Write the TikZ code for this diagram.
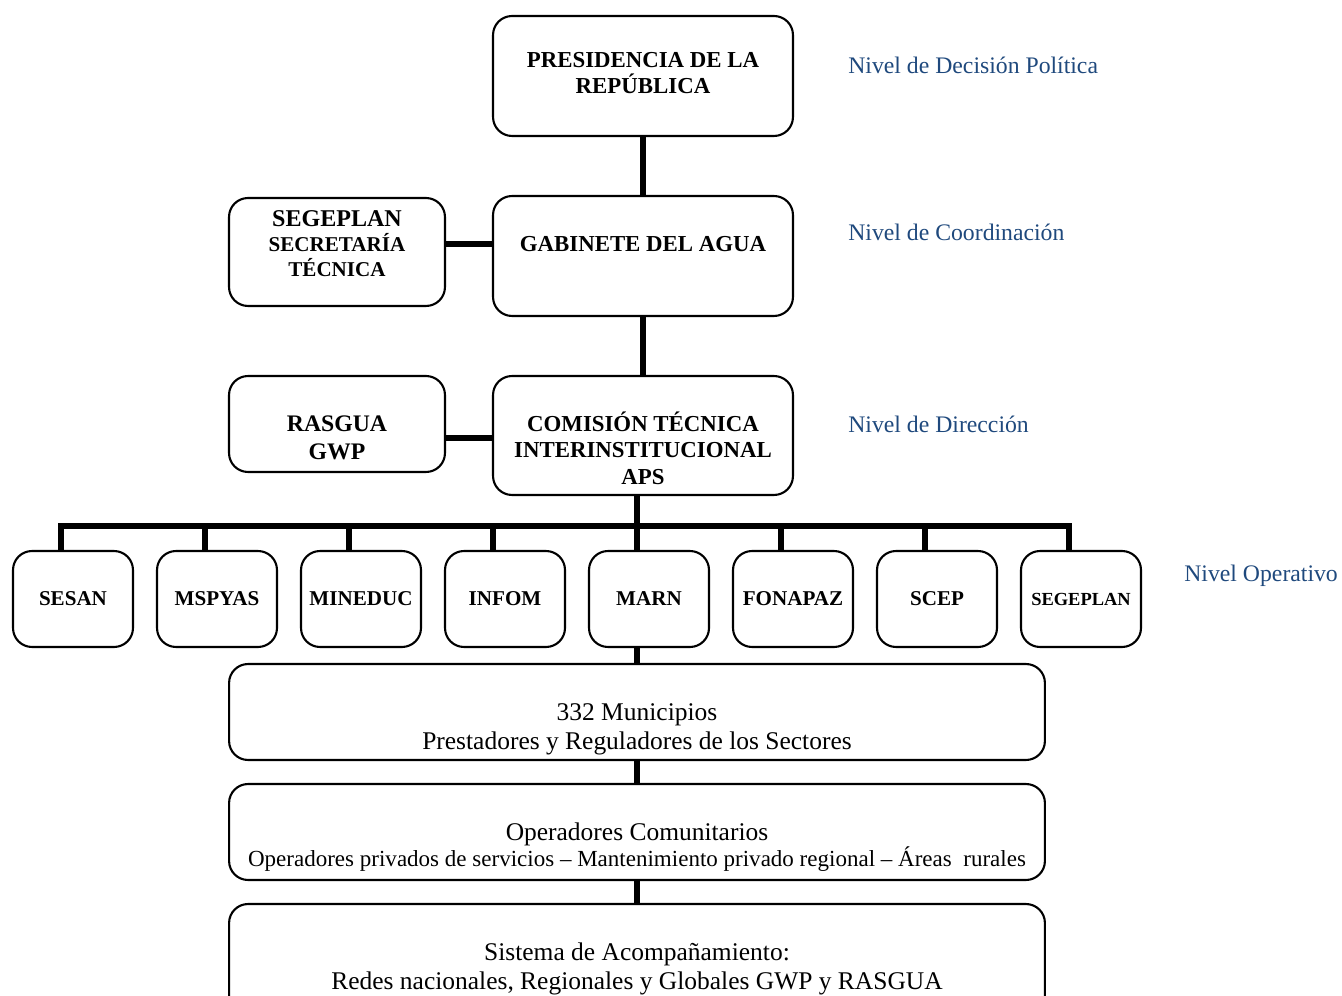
\documentclass[tikz,border=0pt]{standalone}
\usepackage{fontspec}
\setmainfont{Liberation Serif}
\usepackage{tikz}
\usetikzlibrary{calc,positioning}
\definecolor{levelblue}{HTML}{1F497D}

\begin{document}
\begin{tikzpicture}[x=0.02cm,y=-0.02cm,
  box/.style={draw,line width=1.2pt,rounded corners=0.38cm,inner sep=0pt,outer sep=0pt},
  unit/.style={box,minimum width=2.4cm,minimum height=1.92cm},
  head/.style={align=center,inner sep=0pt,font=\bfseries\fontsize{13}{15}\selectfont},
  base/.style={align=center,inner sep=0pt,font=\fontsize{14.5}{16.5}\selectfont},
  level/.style={anchor=west,inner sep=0pt,text=levelblue,font=\fontsize{13.5}{16}\selectfont},
  link/.style={line width=3.2pt}]
  \useasboundingbox (0,0) rectangle (1342,996);
  \clip (0,0) rectangle (1342,996);
  \node[box,minimum width=6cm,minimum height=2.4cm] (pres) at (643,76) {};
  \node[head] (presT) at (643,73) {PRESIDENCIA DE LA\\REPÚBLICA};
  \node[box,minimum width=6cm,minimum height=2.4cm] (gab) at (643,256) {};
  \node[head] (gabT) at (643,244) {GABINETE DEL AGUA};
  \node[box,minimum width=4.32cm,minimum height=2.16cm] (seg) at (337,252) {};
  \node[head,font=\bfseries\fontsize{12}{14.2}\selectfont] (segT) at (337,244)
    {{\fontsize{13.7}{14.2}\selectfont SEGEPLAN}\\SECRETARÍA\\TÉCNICA};
  \node[box,minimum width=6cm,minimum height=2.38cm] (com) at (643,435.5) {};
  \node[head] (comT) at (643,448) {COMISIÓN TÉCNICA\\INTERINSTITUCIONAL\\APS};
  \node[box,minimum width=4.32cm,minimum height=1.92cm] (ras) at (337,424) {};
  \node[head,font=\bfseries\fontsize{13.5}{15.9}\selectfont] (rasT) at (337,438) {RASGUA\\GWP};
  \draw[link] (pres) -- (gab);
  \draw[link] (gab) -- (com);
  \draw[link] (seg.east |- segT) -- (gab.west |- segT);
  \draw[link] (ras.east |- rasT) -- (com.west |- rasT);

  \coordinate (bus) at (0,526);
  \foreach \name/\fs [count=\i] in {SESAN/12,MSPYAS/12,MINEDUC/12,INFOM/12,MARN/12,FONAPAZ/12,SCEP/12,SEGEPLAN/10.5} {
    \node[unit,font=\bfseries\fontsize{\fs}{\fs}\selectfont] (u\i) at ({73+144*(\i-1)},599) {\name};
    \coordinate (d\i) at ($(u\i.north)+(-12,0)$);
  }
  \draw[link] (d1) -- (d1 |- bus) -- (d8 |- bus) -- (d8);
  \foreach \i in {2,...,7}
    \draw[link] (d\i) -- (d\i |- bus);
  \draw[link] (com.south -| d5) -- (d5);

  \node[box,minimum width=16.32cm,minimum height=1.92cm] (muni) at (637,712) {};
  \node[base] (muniT) at (637,729) {332 Municipios\\Prestadores y Reguladores de los Sectores};
  \node[box,minimum width=16.32cm,minimum height=1.92cm] (oper) at (637,832) {};
  \node[base,font=\fontsize{13.1}{14.7}\selectfont] (operT) at (637,847)
    {{\fontsize{14.5}{14.7}\selectfont Operadores Comunitarios}\\Operadores privados de servicios – Mantenimiento privado regional – Áreas\ \ rurales};
  \node[box,minimum width=16.32cm,minimum height=2.4cm] (sist) at (637,964) {};
  \node[base] (sistT) at (637,969) {Sistema de Acompañamiento:\\Redes nacionales, Regionales y Globales GWP y RASGUA};
  \draw[link] (d5 |- u5.south) -- (d5 |- muni.north);
  \draw[link] (muni) -- (oper);
  \draw[link] (oper) -- (sist);

  \node[level] (lvPol) at (848,65) {Nivel de Decisión Política};
  \node[level] (lvCoo) at (848,232) {Nivel de Coordinación};
  \node[level] (lvDir) at (848,424) {Nivel de Dirección};
  \node[level] (lvOpe) at (1184,576) {Nivel Operativo};
\end{tikzpicture}
\end{document}
